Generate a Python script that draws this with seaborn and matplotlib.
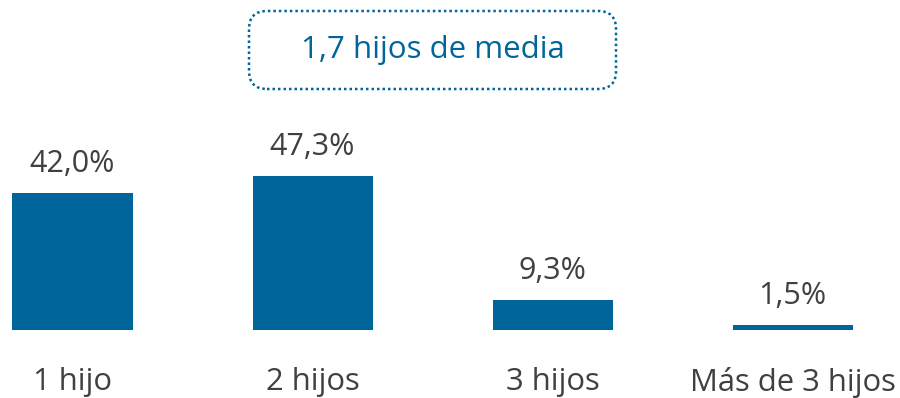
import matplotlib
matplotlib.use("Agg")
import matplotlib.pyplot as plt
from matplotlib.patches import FancyBboxPatch
import seaborn as sns
import pandas as pd

categorias = ["1 hijo", "2 hijos", "3 hijos", "Más de 3 hijos"]
porcentajes = [42.0, 47.3, 9.3, 1.5]
etiquetas = ["42,0%", "47,3%", "9,3%", "1,5%"]
media_texto = "1,7 hijos de media"

AZUL = "#00659A"
GRIS = "#404040"

sns.set_theme(style="white")
plt.rcParams["font.family"] = ["Open Sans", "DejaVu Sans"]

df = pd.DataFrame({"categoria": categorias, "valor": porcentajes})

W, H = 900, 398
fig = plt.figure(figsize=(W / 100, H / 100), dpi=100)
ax = fig.add_axes([0, 68 / H, 1, 330 / H])

sns.barplot(data=df, x="categoria", y="valor", color=AZUL, width=0.5,
            saturation=1, ax=ax, edgecolor="none")

ax.set_xlim(-72.5 / 240, (W - 72.5) / 240)
ax.set_ylim(0, 330 / 3.26)
ax.axis("off")

# value labels above each bar
for i, (v, t) in enumerate(zip(porcentajes, etiquetas)):
    ax.annotate(t, (i, v), xytext=(0, 21), textcoords="offset points",
                ha="center", va="center", fontsize=22, color=GRIS)

# category labels below the baseline
for i, c in enumerate(categorias):
    ax.annotate(c, (i, 0), xytext=(0, -37.5), textcoords="offset points",
                ha="center", va="center", fontsize=22.3, color=GRIS)

# average callout box
bx0, by0, bx1, by1 = 249, 11, 616, 89
box = FancyBboxPatch((bx0 / W, 1 - by1 / H), (bx1 - bx0) / W, (by1 - by0) / H,
                     boxstyle="round,pad=0,rounding_size=0.02",
                     transform=fig.transFigure, facecolor="white",
                     edgecolor=AZUL, linewidth=1.8, linestyle=(0, (1, 1.2)),
                     mutation_aspect=W / H)
fig.patches.append(box)
fig.text((bx0 + bx1) / 2 / W, 1 - 50 / H, media_texto, ha="center",
         va="center", fontsize=22.5, color=AZUL)

fig.savefig("out.png", dpi=100, facecolor="white")
